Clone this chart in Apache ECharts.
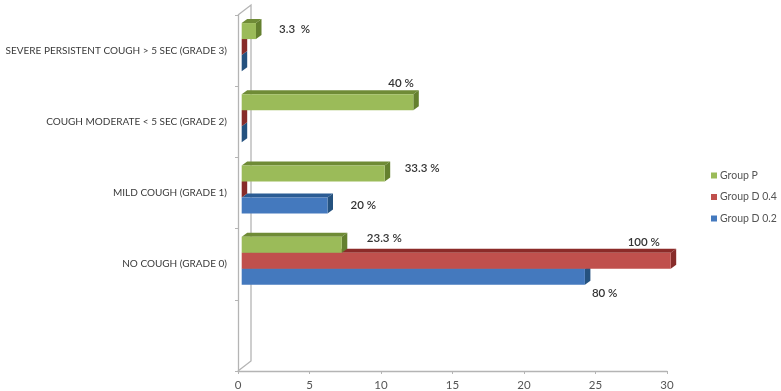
<!DOCTYPE html>
<html><head><meta charset="utf-8">
<style>html,body{margin:0;padding:0;background:#fff}#c{width:781px;height:391px}</style>
<script src="https://cdn.jsdelivr.net/npm/echarts@6/dist/echarts.min.js"></script>
</head><body><div id="c"></div>
<script>
const categories = ['', 'NO COUGH (GRADE 0)', 'MILD COUGH (GRADE 1)', 'COUGH MODERATE < 5 SEC (GRADE 2)', 'SEVERE PERSISTENT COUGH > 5 SEC (GRADE 3)'];
const groupD02 = [null, 24, 6, 0, 0];
const groupD04 = [null, 30, 0, 0, 0];
const groupP   = [null, 7, 10, 12, 1];
const labelsD02 = ['', '80 %', '20 %', '', ''];
const labelsD04 = ['', '100 %', '', '', ''];
const labelsP   = ['', '23.3 %', '33.3 %', '40 %', '3.3  %'];
const xTicks = [0, 30, 5];

const offsetsD02 = [null, [7, 17], [23, 0], null, null];
const offsetsD04 = [null, [-43, -18], null, null, null];
const offsetsP   = [null, [25, -6], [20, -5], [-25, -19], [23, -1.5]];

const DX = 3.7, DY = -3.5, DEPTH_X = 5.5, DEPTH_Y = -4;
const FONT = 'Lato, "Open Sans", sans-serif';

function barRenderer(slot, colors, labels, offsets) {
  return function (params, api) {
    const v = api.value(0), c = api.value(1);
    if (v === null || isNaN(v)) return null;
    const band = api.size([0, 1])[1];
    const h = band * 0.225;
    const p0 = api.coord([0, c]), p1 = api.coord([v, c]);
    const x0 = p0[0] + DX, x1 = p1[0] + DX;
    const cy = p0[1] + DY + slot * h;
    const t = cy - h / 2, b = cy + h / 2;
    const children = [
      { type: 'polygon', shape: { points: [[x0, t], [x0 + DEPTH_X, t + DEPTH_Y], [x1 + DEPTH_X, t + DEPTH_Y], [x1, t]] }, style: { fill: colors.top } },
      { type: 'polygon', shape: { points: [[x1, t], [x1 + DEPTH_X, t + DEPTH_Y], [x1 + DEPTH_X, b + DEPTH_Y], [x1, b]] }, style: { fill: colors.side } },
      { type: 'rect', shape: { x: x0, y: t, width: x1 - x0, height: h }, style: { fill: colors.front } }
    ];
    const off = offsets[c];
    if (off) {
      children.push({
        type: 'text', x: x1 + off[0], y: cy + off[1],
        style: { text: labels[c], fill: '#333', font: '600 11.5px ' + FONT, textAlign: 'left', textVerticalAlign: 'middle' }
      });
    }
    return { type: 'group', children };
  };
}

function toData(arr) { return arr.map((v, i) => [v, i]); }

const green = { front: '#9BBB59', top: '#6F8B36', side: '#64802F' };
const red = { front: '#C0504D', top: '#8C2B29', side: '#872C2A' };
const blue = { front: '#4479BE', top: '#2B5C94', side: '#25527F' };

function wallRender(params, api) {
  const cs = params.coordSys;
  const l = cs.x, t = cs.y, bt = cs.y + cs.height;
  const wx = 13, wy = -10;
  const style = { stroke: '#b4b4b4', lineWidth: 1.3, fill: 'none' };
  return { type: 'group', children: [
    { type: 'polyline', shape: { points: [[l, t], [l + wx, t + wy], [l + wx, bt + wy], [l, bt]] }, style }
  ] };
}

function series(name, arr, slot, colors, labels, offsets) {
  return {
    name, type: 'custom', coordinateSystem: 'cartesian2d', clip: false,
    data: toData(arr), encode: { x: 0, y: 1 }, itemStyle: { color: colors.front },
    renderItem: barRenderer(slot, colors, labels, offsets), z: 3, silent: true
  };
}

const chart = echarts.init(document.getElementById('c'), null, { renderer: 'canvas' });
chart.setOption({
  animation: false,
  backgroundColor: '#fff',
  grid: { left: 238, right: 114, top: 15, bottom: 20, containLabel: false, outerBoundsMode: 'none' },
  legend: {
    orient: 'vertical', left: 706, top: 165, itemWidth: 6, itemHeight: 6, itemGap: 10.5,
    icon: 'rect', data: ['Group P', 'Group D 0.4', 'Group D 0.2'],
    textStyle: { fontFamily: FONT, fontSize: 10.5, color: '#555', padding: [0, 0, 0, -2] }
  },
  xAxis: {
    type: 'value', min: xTicks[0], max: xTicks[1], interval: xTicks[2],
    axisLine: { show: true, lineStyle: { color: '#b4b4b4', width: 1.3 } },
    axisTick: { show: true, length: 3, lineStyle: { color: '#b4b4b4' } },
    axisLabel: { fontFamily: FONT, fontSize: 11.5, color: '#555', margin: 8 },
    splitLine: { show: false }
  },
  yAxis: {
    type: 'category', data: categories,
    axisLine: { show: true, lineStyle: { color: '#b4b4b4', width: 1.3 } },
    axisTick: { show: true, length: 3, alignWithLabel: false, lineStyle: { color: '#b4b4b4' } },
    axisLabel: { fontFamily: FONT, fontSize: 10, color: '#3a3a3a', margin: 11, interval: 0, padding: [1, 0, 0, 0] },
    splitLine: { show: false }
  },
  series: [
    { name: 'wall', type: 'custom', coordinateSystem: 'cartesian2d', clip: false, data: [[0, 0]], encode: { x: 0, y: 1 }, renderItem: wallRender, z: 1, silent: true },
    series('Group D 0.2', groupD02, 1, blue, labelsD02, offsetsD02),
    series('Group D 0.4', groupD04, 0, red, labelsD04, offsetsD04),
    series('Group P', groupP, -1, green, labelsP, offsetsP)
  ]
});
</script></body></html>
